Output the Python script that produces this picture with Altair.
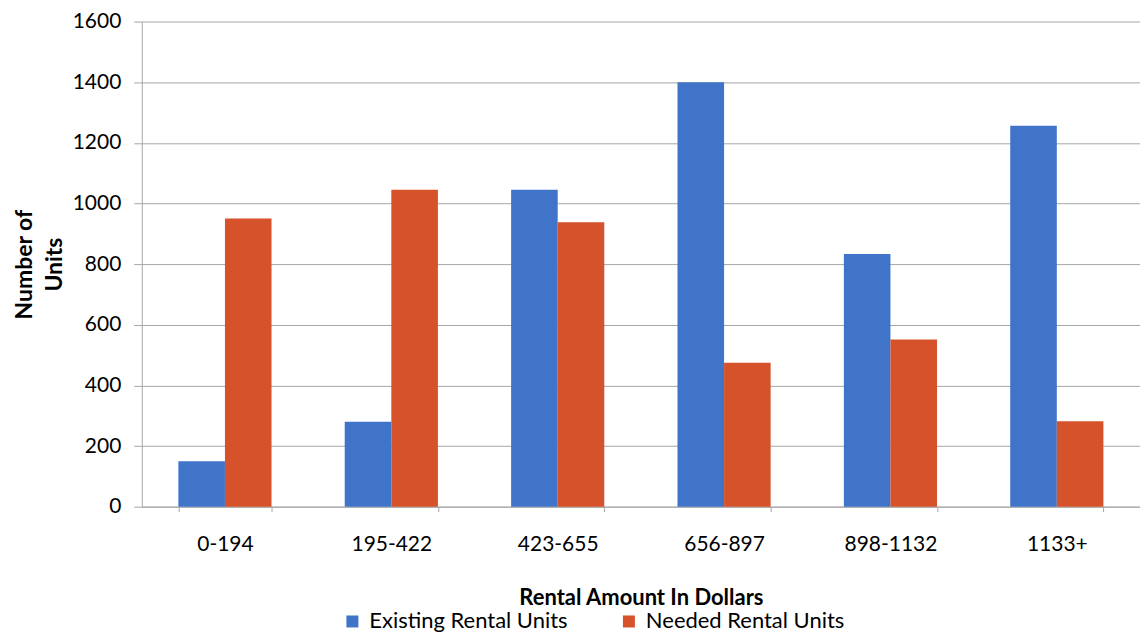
import altair as alt
import pandas as pd

categories = ["0-194", "195-422", "423-655", "656-897", "898-1132", "1133+"]
existing = [150, 280, 1045, 1400, 833, 1256]
needed = [950, 1045, 938, 475, 551, 282]
series = ["Existing Rental Units", "Needed Rental Units"]
colors = ["#3F74C8", "#D6522B"]

rows = []
for c, e, n in zip(categories, existing, needed):
    rows.append({"range": c, "series": series[0], "units": e})
    rows.append({"range": c, "series": series[1], "units": n})
df = pd.DataFrame(rows)

FONT = "Lato"
GRID = "#A6A6A6"

chart = alt.Chart(df).mark_bar().encode(
    x=alt.X("range:N", sort=categories,
            scale=alt.Scale(paddingInner=0.44, paddingOuter=0.22),
            axis=alt.Axis(title="Rental Amount In Dollars", labelAngle=0,
                          tickBand="extent", tickSize=5, tickColor=GRID,
                          domainColor=GRID, labelPadding=22, titlePadding=33,
                          labelFontSize=21, titleFontSize=22, titleFontWeight="bold",
                          grid=False)),
    xOffset=alt.XOffset("series:N", sort=series),
    y=alt.Y("units:Q", scale=alt.Scale(domain=[0, 1600]),
            axis=alt.Axis(title=["Number of", "Units"], values=list(range(0, 1601, 200)),
                          format="d",
                          tickSize=8, tickColor=GRID, domainColor=GRID, gridColor=GRID,
                          labelPadding=13, titlePadding=6, labelFontSize=21,
                          titleFontSize=23, titleFontWeight="bold", titleLineHeight=30)),
    color=alt.Color("series:N", sort=series,
                    scale=alt.Scale(domain=series, range=colors),
                    legend=alt.Legend(title=None, orient="none", direction="horizontal",
                                      legendX=200, legendY=590, symbolType="square",
                                      symbolSize=144, symbolStrokeWidth=0,
                                      labelFontSize=22, labelLimit=0,
                                      columnPadding=50, labelOffset=6,
                                      symbolOpacity=1)),
).properties(
    width=1000, height=486,
    padding={"left": 5, "top": 2, "right": 0, "bottom": 0},
).configure(
    font=FONT,
).configure_view(
    stroke=None,
).configure_axis(
    labelColor="#000000", titleColor="#000000", gridWidth=1,
)

chart.save("out.html", embed_options={"renderer": "svg", "actions": False})
